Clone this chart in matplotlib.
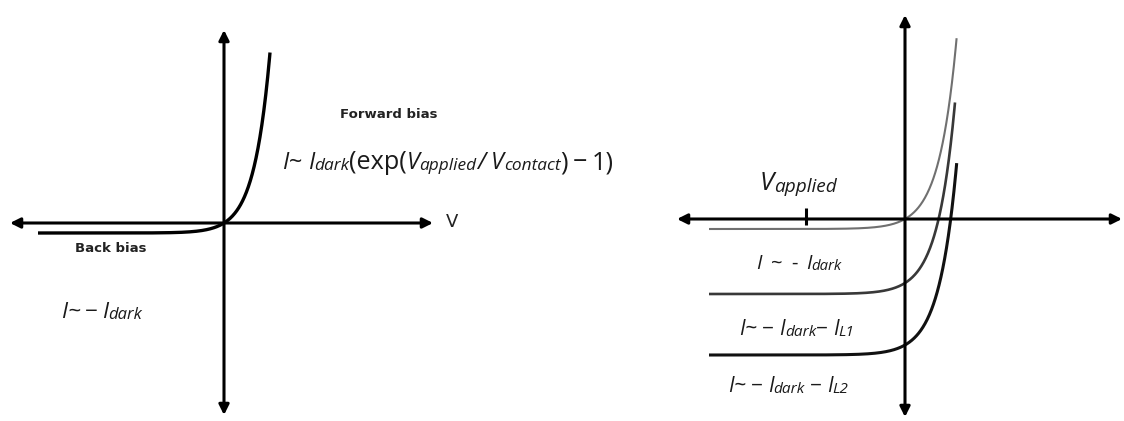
import numpy as np
import matplotlib
matplotlib.use("Agg")
import matplotlib.pyplot as plt
from matplotlib.transforms import offset_copy

plt.rcParams["font.family"] = ["Open Sans", "DejaVu Sans"]

# ---- dark diode (left panel), arbitrary units ----
left_v_range = (-18.6, 4.6)
left_i_dark = 1.0
left_v_contact = 1.59

# ---- illuminated diode family (right panel) ----
right_i_dark = [1.0, 1.1, 1.0]
right_i_light = [0.0, 6.4, 12.6]
right_v_contact = 1.75
right_v_start = -19.6
right_v_end = [5.16, 5.0, 5.17]
right_colors = ["#707070", "#383838", "#111111"]
right_widths = [1.5, 1.9, 2.2]
v_applied_tick = -9.9

AX_LW = 2.2
TXT = "#1a1a1a"


def diode(v, i_dark, v_contact, i_light=0.0):
    # I ~ -I_L + I_dark (exp(V_applied / V_contact) - 1)
    return -i_light + i_dark * (np.exp(v / v_contact) - 1.0)


def axis_arrow(ax, p0, p1):
    ax.annotate("", xy=p1, xytext=p0,
                arrowprops=dict(arrowstyle="<|-|>,head_length=0.6,head_width=0.3",
                                lw=AX_LW, color="black", mutation_scale=10,
                                shrinkA=0, shrinkB=0))


def rich_text(ax, x, y, parts, size, ha="left"):
    """Lay out fragments on one baseline.
    parts: (string, relative size, italic, baseline shift in em, gap after in em)
    """
    fig = ax.figure
    renderer = fig.canvas.get_renderer()
    px_per_pt = fig.dpi / 72.0
    pieces = []
    cursor = 0.0
    for s, rel, it, dy, gap in parts:
        fs = size * rel
        t = ax.text(x, y, s, fontsize=fs, style="italic" if it else "normal",
                    ha="left", va="baseline", color=TXT)
        w = t.get_window_extent(renderer).width
        pieces.append((t, cursor, dy * size * px_per_pt))
        cursor += w + gap * size * px_per_pt
    shift = {"left": 0.0, "center": -cursor / 2.0, "right": -cursor}[ha]
    for t, dx, dy in pieces:
        t.set_transform(offset_copy(ax.transData, fig=fig, x=dx + shift, y=dy,
                                    units="dots"))


fig = plt.figure(figsize=(11.24, 4.21), dpi=100)
fig.patch.set_facecolor("white")

# Left panel: 10 px per unit, origin at (224, 223) px from top-left
axL = fig.add_axes([0, 0, 0.5, 1])
axL.set_xlim(-22.4, 33.8)
axL.set_ylim(-19.8, 22.3)
axL.axis("off")

axis_arrow(axL, (20.9, 0), (-21.4, 0))
axis_arrow(axL, (0, -19.2), (0, 19.3))

vL = np.linspace(left_v_range[0], left_v_range[1], 600)
axL.plot(vL, diode(vL, left_i_dark, left_v_contact), color="black", lw=2.4,
         solid_capstyle="butt")

axL.text(22.2, 0.1, "V", fontsize=13, va="center", ha="left",
         family=["DejaVu Sans"], color="#222222")
axL.text(16.5, 10.8, "Forward bias", fontsize=9.5, fontweight="bold",
         family=["DejaVu Sans"], ha="center", va="center", color="#222222")
axL.text(-11.3, -2.5, "Back bias", fontsize=9.5, fontweight="bold",
         family=["DejaVu Sans"], ha="center", va="center", color="#222222")

SUB = 0.74
SD = -0.06
rich_text(axL, 5.8, 5.4, [
    ("I", 1, True, 0, 0.0), ("~", 1, False, 0, 0.25),
    ("I", 1, True, 0, 0.0), ("dark", SUB, True, SD, 0.0),
    ("(exp(", 1.08, False, 0, 0.0),
    ("V", 1, True, 0, 0.0), ("applied", SUB, True, SD, 0.0),
    ("/", 1, True, 0, 0.25),
    ("V", 1, True, 0, 0.0), ("contact", SUB, True, SD, 0.0),
    (")", 1.08, False, 0, 0.2), ("\u2212", 1.08, False, 0, 0.2),
    ("1)", 1.08, False, 0, 0.0),
], size=16.8)

rich_text(axL, -16.3, -9.5, [
    ("I", 1, True, 0, 0.0), ("~", 1, True, 0, 0.2), ("\u2212", 1, False, 0, 0.2),
    ("I", 1, True, 0, 0.0), ("dark", SUB, True, SD, 0.0),
], size=16.2)

# Right panel: 10 px per unit, origin at (905, 219) px
axR = fig.add_axes([0.5, 0, 0.5, 1])
axR.set_xlim(-34.3, 21.9)
axR.set_ylim(-20.2, 21.9)
axR.axis("off")

axis_arrow(axR, (21.7, 0), (-22.8, 0))
axis_arrow(axR, (0, -19.8), (0, 20.4))
axR.plot([v_applied_tick, v_applied_tick], [-0.6, 1.1], color="black",
         lw=AX_LW, solid_capstyle="butt")

for i_d, i_l, v_e, c, w in zip(right_i_dark, right_i_light, right_v_end,
                               right_colors, right_widths):
    vR = np.linspace(right_v_start, v_e, 800)
    axR.plot(vR, diode(vR, i_d, right_v_contact, i_l), color=c, lw=w,
             solid_capstyle="butt")

rich_text(axR, -10.65, 2.9, [
    ("V", 1, True, 0, 0.0), ("applied", SUB, True, SD, 0.0),
], size=18.5, ha="center")

rich_text(axR, -10.6, -5.0, [
    ("I", 1, True, 0, 0.45), ("~", 1, False, 0, 0.45), ("-", 1, False, 0, 0.4),
    ("I", 1, True, 0, 0.0), ("dark", SUB, True, SD, 0.0),
], size=14.5, ha="center")

rich_text(axR, -10.8, -11.6, [
    ("I", 1, True, 0, 0.0), ("~", 1, True, 0, 0.25), ("\u2212", 1, False, 0, 0.25),
    ("I", 1, True, 0, 0.0), ("dark", SUB, True, SD, 0.0),
    ("\u2212", 1, False, 0, 0.25),
    ("I", 1, True, 0, 0.0), ("L1", SUB, True, SD, 0.0),
], size=15, ha="center")

rich_text(axR, -11.65, -17.3, [
    ("I", 1, True, 0, 0.0), ("~", 1, True, 0, 0.25), ("\u2212", 1, False, 0, 0.25),
    ("I", 1, True, 0, 0.0), ("dark", SUB, True, SD, 0.25),
    ("\u2212", 1, False, 0, 0.25),
    ("I", 1, True, 0, 0.0), ("L2", SUB, True, SD, 0.0),
], size=15, ha="center")

fig.savefig("out.png", dpi=100, facecolor="white")
